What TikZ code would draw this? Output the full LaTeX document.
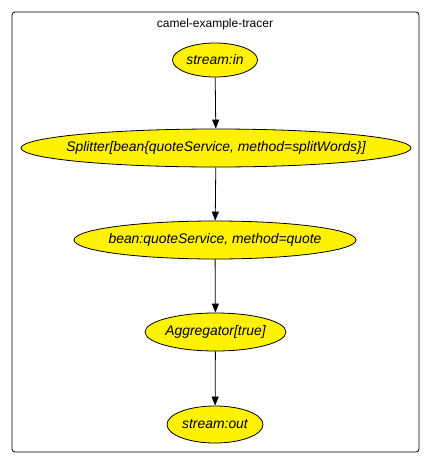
\documentclass[tikz,border=0pt]{standalone}
\usepackage{fontspec}
\setmainfont{Liberation Sans}
\usetikzlibrary{shapes.geometric,arrows.meta}
\newcommand{\zw}[1]{\makebox[0pt]{#1}}
\begin{document}
\begin{tikzpicture}[x=1pt,y=-1pt,
  proc/.style={ellipse,draw=black,fill=yellow,line width=0.8pt,inner sep=0pt,
    font=\fontsize{13.9}{16}\selectfont\itshape},
  flow/.style={draw=black,line width=0.8pt,-{Triangle[length=9pt,width=7pt]}}]
\useasboundingbox (0,0) rectangle (430,464);
\node[draw=black,line width=0.8pt,rounded corners=3pt,minimum width=407pt,minimum height=440pt,inner sep=0pt] (frame) at (215.5,232) {};
\node[font=\fontsize{12}{14}\selectfont] (title) at (215,24) {camel-example-tracer};
\node[proc,minimum width=85pt,minimum height=34pt] (in) at (215,60) {\zw{stream:in}};
\node[proc,minimum width=390pt,minimum height=38pt] (split) at (216,148) {\zw{Splitter[bean\{quoteService, method=splitWords\}]}};
\node[proc,minimum width=282pt,minimum height=38pt] (bean) at (215,240) {\zw{bean:quoteService, method=quote}};
\node[proc,minimum width=141pt,minimum height=38pt] (agg) at (215.5,332) {\zw{Aggregator[true]}};
\node[proc,minimum width=96pt,minimum height=37pt] (out) at (215,424.5) {\zw{stream:out}};
\draw[flow] (in) -- (split);
\draw[flow] (split) -- (bean);
\draw[flow] (bean) -- (agg);
\draw[flow] (agg) -- (out);
\end{tikzpicture}
\end{document}
